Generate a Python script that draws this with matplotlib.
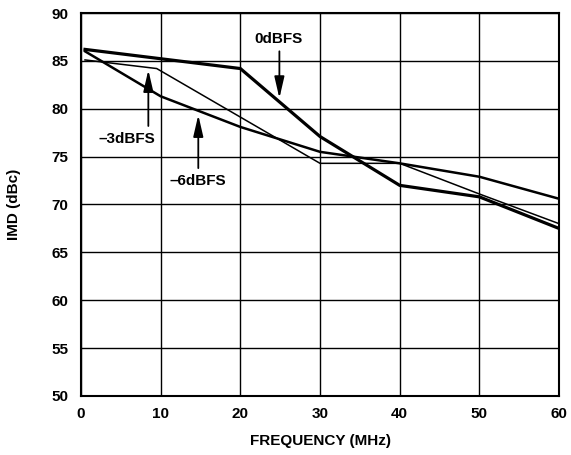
import matplotlib
matplotlib.use("Agg")
import matplotlib.pyplot as plt

plt.rcParams['font.family'] = ['Liberation Sans', 'DejaVu Sans']
plt.rcParams['font.weight'] = 'bold'

# IMD vs frequency, three input levels
freq_0db = [0.5, 20, 30, 40, 50, 60]
imd_0db = [86.2, 84.2, 77.1, 72.0, 70.8, 67.5]

freq_3db = [0.5, 9.5, 30, 40, 50, 60]
imd_3db = [85.1, 84.2, 74.3, 74.3, 71.1, 68.0]

freq_6db = [0.5, 10, 20, 30, 40, 50, 60]
imd_6db = [86.0, 81.3, 78.1, 75.5, 74.3, 72.9, 70.6]

x_ticks = [0, 10, 20, 30, 40, 50, 60]
y_ticks = [50, 55, 60, 65, 70, 75, 80, 85, 90]

fig = plt.figure(figsize=(5.71, 4.55), dpi=100)
ax = fig.add_axes([0.1419, 0.1297, 0.8371, 0.8417])

ax.plot(freq_0db, imd_0db, color='black', lw=2.3, solid_joinstyle='miter')
ax.plot(freq_6db, imd_6db, color='black', lw=1.8, solid_joinstyle='miter')
ax.plot(freq_3db, imd_3db, color='black', lw=1.1, solid_joinstyle='miter')

ax.set_xlim(0, 60)
ax.set_ylim(50, 90)
ax.set_xticks(x_ticks)
ax.set_yticks(y_ticks)
ax.grid(True, color='black', lw=1.0)
ax.tick_params(length=0, labelsize=11)
ax.tick_params(axis='x', pad=8)
ax.tick_params(axis='y', pad=9)
for s in ax.spines.values():
    s.set_linewidth(1.5)

ax.set_xlabel("FREQUENCY (MHz)", fontsize=11, fontweight='bold', labelpad=9)
ax.set_ylabel("IMD (dBc)", fontsize=11, fontweight='bold', labelpad=22)

arrow = dict(arrowstyle='-|>,head_width=0.3,head_length=1.3', color='black', lw=1.3,
             shrinkA=0, shrinkB=0)
labels = [("0dBFS", (24.9, 81.1), (24.9, 86.0), (24.8, 87.25)),
          ("\u20133dBFS", (8.45, 84.05), (8.45, 78.2), (5.73, 76.8)),
          ("\u20136dBFS", (14.72, 79.35), (14.72, 73.8), (14.6, 72.45))]
for txt, tip, tail, pos in labels:
    ax.annotate("", xy=tip, xytext=tail, arrowprops=arrow)
    ax.text(pos[0], pos[1], txt, ha='center', va='center', fontsize=11, fontweight='bold')

fig.savefig("out.png", dpi=100)
